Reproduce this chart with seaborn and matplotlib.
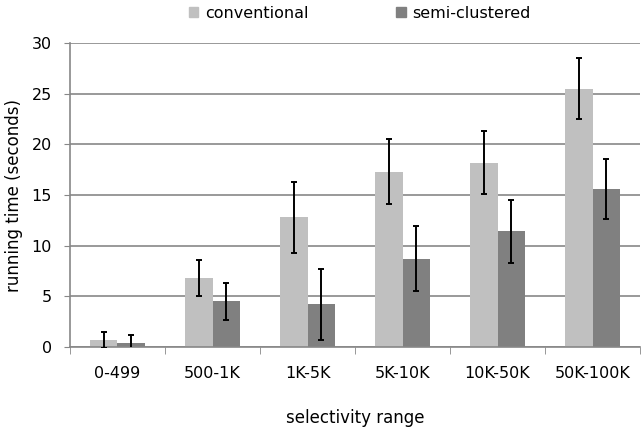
import numpy as np
import pandas as pd
import matplotlib
matplotlib.use('Agg')
import matplotlib.pyplot as plt
import seaborn as sns

ranges = ['0-499', '500-1K', '1K-5K', '5K-10K', '10K-50K', '50K-100K']
series = ['conventional', 'semi-clustered']
conventional = [0.7, 6.8, 12.8, 17.3, 18.2, 25.5]
semi_clustered = [0.4, 4.5, 4.2, 8.7, 11.4, 15.6]
conventional_err = [0.8, 1.8, 3.5, 3.2, 3.1, 3.0]
semi_clustered_err = [0.8, 1.8, 3.5, 3.2, 3.1, 3.0]
colors = ['#c0c0c0', '#808080']

df = pd.DataFrame({
    'range': ranges * 2,
    'series': [series[0]] * len(ranges) + [series[1]] * len(ranges),
    'time': conventional + semi_clustered,
})
errs = [conventional_err, semi_clustered_err]

sns.set_style('white')
plt.rcParams['font.family'] = ['DejaVu Sans']
plt.rcParams['text.color'] = 'black'
plt.rcParams['axes.labelcolor'] = 'black'
plt.rcParams['xtick.labelcolor'] = 'black'
plt.rcParams['ytick.labelcolor'] = 'black'

fig = plt.figure(figsize=(6.42, 4.3), dpi=100)
ax = fig.add_axes([0.109, 0.193, 0.888, 0.707])

sns.barplot(data=df, x='range', y='time', hue='series', palette=colors,
            width=0.58, gap=0, errorbar=None, saturation=1, linewidth=0,
            ax=ax, zorder=2)

# error bars on top of each bar
for cont, err in zip(ax.containers, errs):
    xs = [p.get_x() + p.get_width() / 2 for p in cont.patches]
    ys = [p.get_height() for p in cont.patches]
    ax.errorbar(xs, ys, yerr=err, fmt='none', ecolor='black',
                elinewidth=1.4, capsize=2, capthick=1.4, zorder=3)

ax.set_ylim(0, 30)
ax.set_xlim(-0.5, len(ranges) - 0.5)
ax.set_yticks(range(0, 31, 5))
ax.yaxis.grid(True, color='#878787', linewidth=1.2)
ax.set_axisbelow(True)
for s in ['top', 'right']:
    ax.spines[s].set_visible(False)
for s in ['left', 'bottom']:
    ax.spines[s].set_color('#878787')
    ax.spines[s].set_linewidth(1.2)

ax.set_xticks(np.arange(-0.5, len(ranges)), minor=True)
ax.tick_params(axis='x', which='major', length=0, pad=14, labelsize=11.5)
ax.tick_params(axis='x', which='minor', length=5, color='#878787', bottom=True)
ax.tick_params(axis='y', length=4, color='#878787', left=True, pad=9, labelsize=11.5)

ax.set_xlabel('selectivity range', fontsize=12, labelpad=20)
ax.set_ylabel('running time (seconds)', fontsize=12, labelpad=6)

ax.legend_.remove()
handles = [plt.Rectangle((0, 0), 1, 1, color=c) for c in colors]
fig.legend(handles, series, loc='upper center', bbox_to_anchor=(0.56, 1.02),
           ncol=2, frameon=False, fontsize=11.5, handlelength=0.6,
           handleheight=0.6, handletextpad=0.4, columnspacing=5.5)

fig.savefig('out.png', dpi=100)
